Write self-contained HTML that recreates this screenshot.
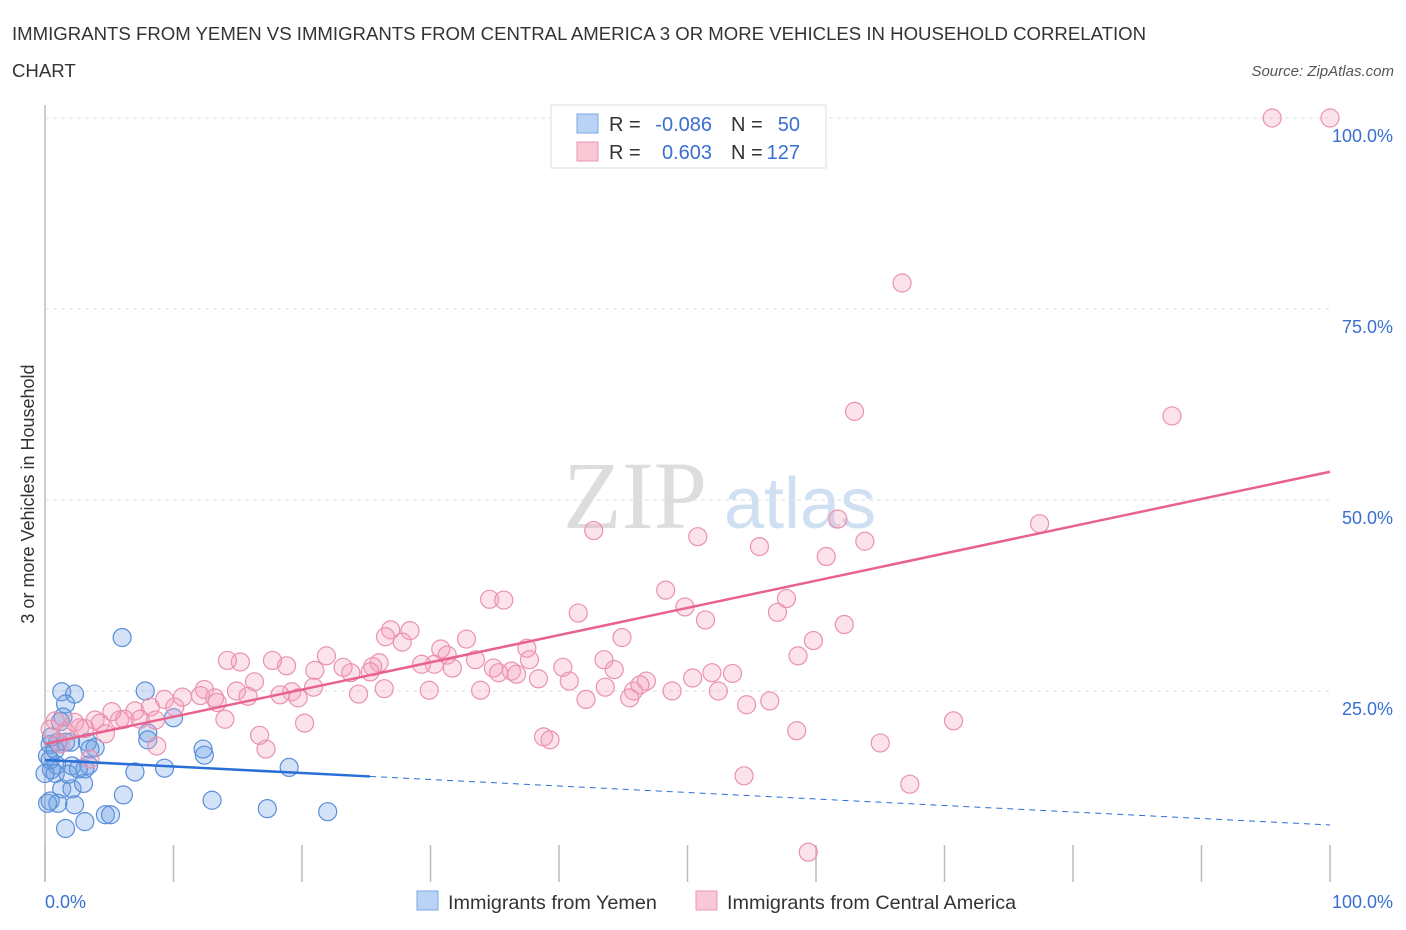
<!DOCTYPE html>
<html><head><meta charset="utf-8"><style>
body{margin:0;background:#fff;font-family:"Liberation Sans",sans-serif;}
svg{display:block}
</style></head><body>
<svg id="chart" width="1406" height="930">
<text x="12" y="40" font-size="18.6" fill="#333">IMMIGRANTS FROM YEMEN VS IMMIGRANTS FROM CENTRAL AMERICA 3 OR MORE VEHICLES IN HOUSEHOLD CORRELATION</text>
<text x="12" y="77" font-size="18.6" fill="#333">CHART</text>
<text x="1394" y="76" font-size="15" fill="#555" font-style="italic" text-anchor="end">Source: ZipAtlas.com</text>
<text x="34" y="494" font-size="18" fill="#333" text-anchor="middle" transform="rotate(-90 34 494)">3 or more Vehicles in Household</text>
<text x="635" y="528" font-size="96" fill="#ddd" font-family="Liberation Serif,serif" text-anchor="middle">ZIP</text>
<text x="800" y="528" font-size="72" fill="#cfe0f3" text-anchor="middle">atlas</text>
<g id="grid"></g><g id="pts"></g><g id="lines"></g>
<g>
<rect x="551" y="105" width="275" height="63" fill="#fff" stroke="#ddd"/>
<rect x="577" y="114" width="21" height="19" fill="#b9d3f5" stroke="#7aa6e6"/>
<rect x="577" y="142" width="21" height="19" fill="#f9c8d6" stroke="#ec97b2"/>
<g font-size="20" fill="#333">
<text x="609" y="131">R =</text>
<text x="712" y="131" text-anchor="end" fill="#3a6fd1">-0.086</text>
<text x="731" y="131">N =</text>
<text x="800" y="131" text-anchor="end" fill="#3a6fd1">50</text>
<text x="609" y="159">R =</text>
<text x="712" y="159" text-anchor="end" fill="#3a6fd1">0.603</text>
<text x="731" y="159">N =</text>
<text x="800" y="159" text-anchor="end" fill="#3a6fd1">127</text>
</g>
</g>
<g>
<rect x="417" y="891" width="21" height="19" fill="#b9d3f5" stroke="#7aa6e6"/>
<text x="448" y="909" font-size="19.8" fill="#333">Immigrants from Yemen</text>
<rect x="696" y="891" width="21" height="19" fill="#f9c8d6" stroke="#ec97b2"/>
<text x="727" y="909" font-size="19.8" fill="#333">Immigrants from Central America</text>
</g>
<text x="45" y="908" font-size="18" fill="#3a6fd1">0.0%</text>
<text x="1393" y="908" font-size="18" fill="#3a6fd1" text-anchor="end">100.0%</text>
</svg>
<script>
const yTicks=[25,50,75,100];
const xTicks=[0,10,20,30,40,50,60,70,80,90,100];
const yemenX=[6,7.8,1.3,2.3,1.6,10,8,8,1.4,0.4,3.3,3.9,0.2,12.3,12.4,0.9,2.1,3.4,0.5,19,7,9.3,3.1,0.8,1.3,2.1,3,6.1,13,0.4,1,2.3,17.3,22,4.7,5.1,1.6,3.1,0.4,0.8,1.2,2,0,0.2,1.8,2.6,3.5,1,0.5,1.6];
const yemenY=[32,25,24.9,24.6,23.3,21.5,19.5,18.6,21.6,18,18.3,17.6,16.5,17.4,16.6,15.3,15.2,15.3,14.7,15,14.4,14.9,14.8,14.2,12.2,12.2,12.9,11.4,10.7,10.6,10.3,10.1,9.6,9.2,8.8,8.8,7,7.9,16,17.3,21,18.3,14.2,10.3,14.1,14.8,17.4,18.3,19,18.3];
const caX=[95.5,100,66.7,63,87.7,77.4,61.7,42.7,50.8,55.6,60.8,63.8,48.3,34.6,35.7,49.8,57.7,41.5,51.4,57,62.2,59.8,26.9,28.4,26.5,32.8,44.9,27.8,30.8,37.5,31.3,58.6,21.9,26,30.3,33.5,34.9,37.7,43.5,18.8,23.8,29.3,31.7,36.3,40.3,44.3,51.9,53.5,15.2,21,23.2,25.5,35.3,36.7,14.2,17.7,25.3,38.4,40.8,46.8,50.4,16.3,20.9,26.4,29.9,33.9,43.6,45.8,46.3,48.8,52.4,12.4,14.9,19.2,9.3,10.7,12.1,13.2,15.8,18.3,19.7,24.4,42.1,45.5,7,8.2,10.1,13.4,8.6,5.8,3.9,4.3,7.4,4.7,2.7,1.6,0.8,0.4,1.2,2.3,3.1,14,20.2,54.6,56.4,70.7,16.7,17.2,8.7,38.8,39.3,58.5,65,54.4,67.3,59.4,3.5,6.2,5.2];
const caY=[100,100,78.4,61.6,61,46.9,47.5,46,45.2,43.9,42.6,44.6,38.2,37,36.9,36,37.1,35.2,34.3,35.3,33.7,31.6,33,32.9,32.1,31.8,32,31.4,30.5,30.6,29.7,29.6,29.6,28.7,28.5,29.1,28,29.1,29.1,28.3,27.4,28.5,28,27.6,28.1,27.8,27.4,27.3,28.8,27.7,28.1,28.2,27.4,27.2,29,29,27.5,26.6,26.3,26.3,26.7,26.2,25.5,25.3,25.1,25.1,25.5,25,25.8,25,25,25.2,25,24.9,23.9,24.2,24.4,24.1,24.3,24.5,24.1,24.6,23.9,24.1,22.4,22.9,22.9,23.5,21.2,21.2,21.2,20.8,21.3,19.4,20.2,19.7,21.1,20,18.1,20.9,20.1,21.3,20.8,23.2,23.7,21.1,19.2,17.4,17.8,19,18.6,19.8,18.2,13.9,12.8,3.9,16.1,21.3,22.3];
const yemenTrend=[15.97,7.46], yemenSolidEnd=25.3;
const caTrend=[18.06,53.7];
const NS='http://www.w3.org/2000/svg';
const X=v=>45+v*12.85, Y=v=>882-v*7.64;
function mk(t,a,p){const e=document.createElementNS(NS,t);for(const k in a)e.setAttribute(k,a[k]);p.appendChild(e);return e;}
const grid=document.getElementById('grid'),pts=document.getElementById('pts'),lines=document.getElementById('lines');
const axY=mk('line',{x1:45,y1:105,x2:45,y2:882,stroke:'#bbb','stroke-width':1.5},grid);


yTicks.forEach(v=>{
 const g=mk('line',{x1:45,x2:1330,y1:Y(v),y2:Y(v),stroke:'#ddd','stroke-dasharray':'4,4'},grid);
 
 
 const t=mk('text',{x:1393,y:Y(v)+24,'font-size':18,fill:'#3a6fd1','text-anchor':'end'},grid);t.textContent=v.toFixed(1)+'%';
 
 
});
xTicks.forEach(v=>{
 const l=mk('line',{x1:X(v),x2:X(v),y1:845,y2:882,stroke:'#bbb','stroke-width':1.5},grid);
 
 
});
yemenX.forEach((x,i)=>{
 const c=mk('circle',{cx:X(x),cy:Y(yemenY[i]),r:9,fill:'rgba(110,160,230,0.3)',stroke:'#5b8fd9','stroke-width':1.2},pts);
 
 
});
caX.forEach((x,i)=>{
 const c=mk('circle',{cx:X(x),cy:Y(caY[i]),r:9,fill:'rgba(245,160,190,0.3)',stroke:'#ea92ae','stroke-width':1.2},pts);
 
 
});
const yb=x=>yemenTrend[0]+(yemenTrend[1]-yemenTrend[0])*x/100;
const l1=mk('line',{x1:X(0),y1:Y(yb(0)),x2:X(yemenSolidEnd),y2:Y(yb(yemenSolidEnd)),stroke:'#2a6fd6','stroke-width':2.5},lines);


const l2=mk('line',{x1:X(yemenSolidEnd),y1:Y(yb(yemenSolidEnd)),x2:X(100),y2:Y(yb(100)),stroke:'#2a6fd6','stroke-width':1,'stroke-dasharray':'6,5'},lines);


const l3=mk('line',{x1:X(0),y1:Y(caTrend[0]),x2:X(100),y2:Y(caTrend[1]),stroke:'#e8628e','stroke-width':2.5},lines);


</script>
</body></html>
